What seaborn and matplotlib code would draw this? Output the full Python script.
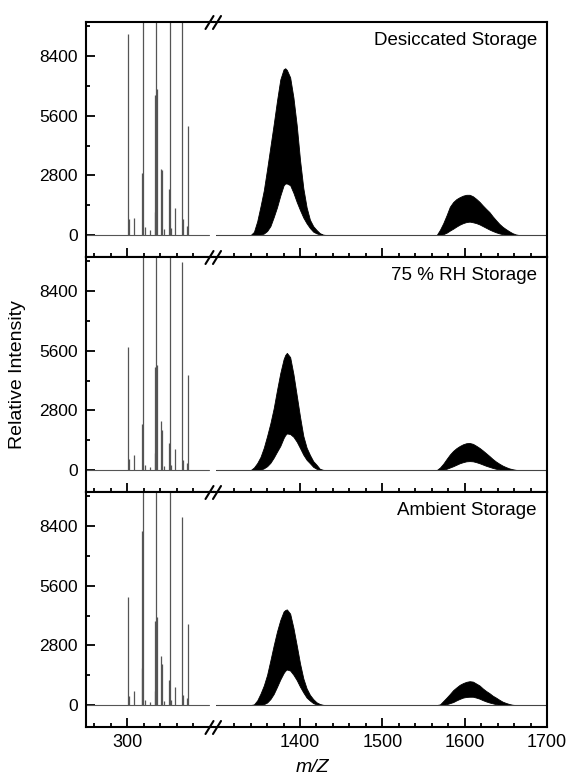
import numpy as np
import pandas as pd
import seaborn as sns
from matplotlib import pyplot as plt
from matplotlib.lines import Line2D
from matplotlib.ticker import FixedLocator

# ========================================================
# data

# low mass region: stick peaks
stick_mz = [301.6, 302.4, 308.9, 317.9, 318.5, 319.1, 321.1, 327.2, 333.3, 334.2, 334.5,
            335.7, 340.6, 342.7, 345.0, 350.4, 351.6, 352.8, 358.5, 366.7, 367.4, 372.3, 373.5]
stick_desiccated = [9430, 750, 780, 2920, 0, 12000, 390, 250, 6570, 1100, 12000,
                    6850, 3100, 3050, 300, 2140, 12000, 330, 1250, 12000, 750, 420, 5110]
stick_humid = [5770, 530, 690, 2170, 0, 12000, 220, 150, 4830, 800, 12000,
               4940, 2300, 1860, 200, 1280, 12000, 250, 1000, 9760, 490, 330, 4470]
stick_ambient = [5070, 420, 660, 1740, 8150, 12000, 230, 150, 3940, 650, 12000,
                 4130, 2280, 1940, 200, 1190, 12000, 250, 850, 8820, 450, 330, 3820]
baseline_left = [250, 400]
baseline_right = [1298, 1700]

# high mass region: envelope of the dense peak series
env_mz = [1298, 1340, 1344, 1348, 1352, 1356, 1360, 1364, 1368, 1372, 1376, 1380, 1382,
          1384, 1388, 1392, 1396, 1400, 1404, 1408, 1412, 1416, 1420, 1424, 1428, 1432,
          1566, 1570, 1574, 1578, 1582, 1586, 1590, 1594, 1598, 1602, 1606, 1610, 1614,
          1618, 1622, 1626, 1630, 1634, 1638, 1642, 1646, 1650, 1654, 1658, 1662, 1666, 1700]

upper_desiccated = [0, 0, 150, 650, 1350, 2100, 3100, 4150, 5200, 6300, 7300, 7780, 7830,
                    7750, 7400, 6450, 5150, 3520, 2200, 1300, 720, 420, 240, 90, 20, 0,
                    0, 250, 560, 930, 1330, 1550, 1690, 1780, 1850, 1890, 1890, 1820, 1700,
                    1560, 1390, 1230, 1080, 880, 700, 530, 390, 280, 180, 90, 30, 0, 0]
lower_desiccated = [0, 0, 0, 0, 20, 70, 190, 420, 840, 1300, 1850, 2330, 2420,
                    2420, 2340, 1980, 1550, 1170, 820, 550, 330, 160, 80, 30, 0, 0,
                    0, 0, 40, 110, 210, 300, 400, 490, 560, 610, 630, 600, 560,
                    500, 420, 340, 260, 190, 130, 80, 40, 10, 0, 0, 0, 0, 0]

upper_humid = [0, 0, 120, 330, 620, 1050, 1600, 2200, 2900, 3750, 4550, 5200, 5400,
               5500, 5300, 4500, 3500, 2500, 1600, 1050, 710, 420, 250, 60, 10, 0,
               0, 120, 300, 520, 730, 900, 1030, 1130, 1210, 1260, 1270, 1230, 1140,
               1040, 920, 790, 660, 520, 400, 300, 210, 140, 80, 40, 10, 0, 0]
lower_humid = [0, 0, 0, 0, 15, 80, 180, 340, 580, 860, 1130, 1500, 1640,
               1720, 1690, 1560, 1330, 1030, 720, 480, 320, 150, 60, 10, 0, 0,
               0, 0, 20, 60, 120, 180, 250, 320, 370, 410, 420, 410, 370,
               320, 260, 200, 150, 100, 60, 30, 10, 0, 0, 0, 0, 0, 0]

upper_ambient = [0, 0, 30, 220, 540, 920, 1420, 2100, 2800, 3450, 3990, 4390, 4460,
                 4490, 4290, 3620, 2800, 1950, 1250, 780, 480, 280, 130, 50, 10, 0,
                 0, 30, 190, 350, 520, 700, 830, 950, 1030, 1090, 1120, 1100, 1010,
                 920, 780, 660, 560, 440, 350, 250, 160, 100, 50, 15, 0, 0, 0]
lower_ambient = [0, 0, 0, 0, 0, 40, 120, 280, 520, 850, 1200, 1500, 1610,
                 1670, 1620, 1420, 1170, 860, 590, 350, 210, 90, 30, 0, 0, 0,
                 0, 0, 0, 40, 90, 140, 220, 290, 350, 380, 390, 390, 350,
                 300, 230, 170, 120, 80, 40, 10, 0, 0, 0, 0, 0, 0, 0]

titles = ["Desiccated Storage", "75 % RH Storage", "Ambient Storage"]

# ========================================================
sns.set_theme(style="ticks", rc={"axes.edgecolor": "black", "xtick.color": "black",
                                 "ytick.color": "black", "text.color": "black",
                                 "axes.labelcolor": "black", "axes.linewidth": 1.5})
plt.rcParams["font.family"] = ["Liberation Sans", "DejaVu Sans"]

W, H = 570, 779
fig = plt.figure(figsize=(W / 100, H / 100), dpi=100)
gs = fig.add_gridspec(3, 2, width_ratios=[155, 405],
                      left=86 / W, right=547 / W, top=1 - 22 / H, bottom=1 - 727 / H,
                      wspace=0, hspace=0)

panels = [
    (stick_desiccated, upper_desiccated, lower_desiccated),
    (stick_humid, upper_humid, lower_humid),
    (stick_ambient, upper_ambient, lower_ambient),
]

for i, (sticks, upper, lower) in enumerate(panels):
    axl = fig.add_subplot(gs[i, 0])
    axr = fig.add_subplot(gs[i, 1], sharey=axl)

    sns.lineplot(x=baseline_left, y=[0, 0], ax=axl, color="#555555", lw=0.8)
    axl.vlines(stick_mz, 0, sticks, color="#555555", lw=0.9)

    sns.lineplot(x=baseline_right, y=[0, 0], ax=axr, color="#444444", lw=0.8)
    axr.fill_between(env_mz, lower, upper, facecolor="black", edgecolor="black", lw=0.6)

    axl.set_xlim(250, 405)
    axr.set_xlim(1295, 1700)
    axl.set_ylim(-1030, 10000)

    axl.spines["right"].set_visible(False)
    axr.spines["left"].set_visible(False)

    axl.xaxis.set_major_locator(FixedLocator([300]))
    axl.xaxis.set_minor_locator(FixedLocator([260, 280, 320, 340, 360, 380]))
    axr.xaxis.set_major_locator(FixedLocator([1400, 1500, 1600, 1700]))
    axr.xaxis.set_minor_locator(FixedLocator([m for m in range(1320, 1700, 20) if m % 100]))
    axl.yaxis.set_major_locator(FixedLocator([0, 2800, 5600, 8400]))
    axl.yaxis.set_minor_locator(FixedLocator([1400, 4200, 7000, 9800]))

    for ax in (axl, axr):
        ax.set_xlabel("")
        ax.set_ylabel("")
        ax.tick_params(which="both", direction="in", top=False, right=False, width=1.3)
        ax.tick_params(which="major", length=6.5)
        ax.tick_params(which="minor", length=3)
        ax.tick_params(axis="x", labelsize=13, pad=5, labelbottom=(i == 2))
    axl.tick_params(axis="y", labelsize=12.5, pad=6)
    axr.tick_params(axis="y", which="both", left=False, labelleft=False)

    axr.text(0.97, 0.923, titles[i], transform=axr.transAxes, ha="right", va="center",
             fontsize=13.5)

# axis break marks "//"
for yb in [22, 257, 492, 727]:
    for xc in [209.5, 217]:
        fig.add_artist(Line2D([(xc - 4) / W, (xc + 4) / W],
                              [1 - (yb + 7) / H, 1 - (yb - 6) / H],
                              transform=fig.transFigure, color="black", lw=1.5))

fig.text(18 / W, 1 - 375 / H, "Relative Intensity", rotation=90, ha="center", va="center",
         fontsize=14)
fig.text(312 / W, 1 - 768 / H, "m/Z", style="italic", ha="center", va="center", fontsize=14)

fig.savefig("out.png", dpi=100, facecolor="white")
